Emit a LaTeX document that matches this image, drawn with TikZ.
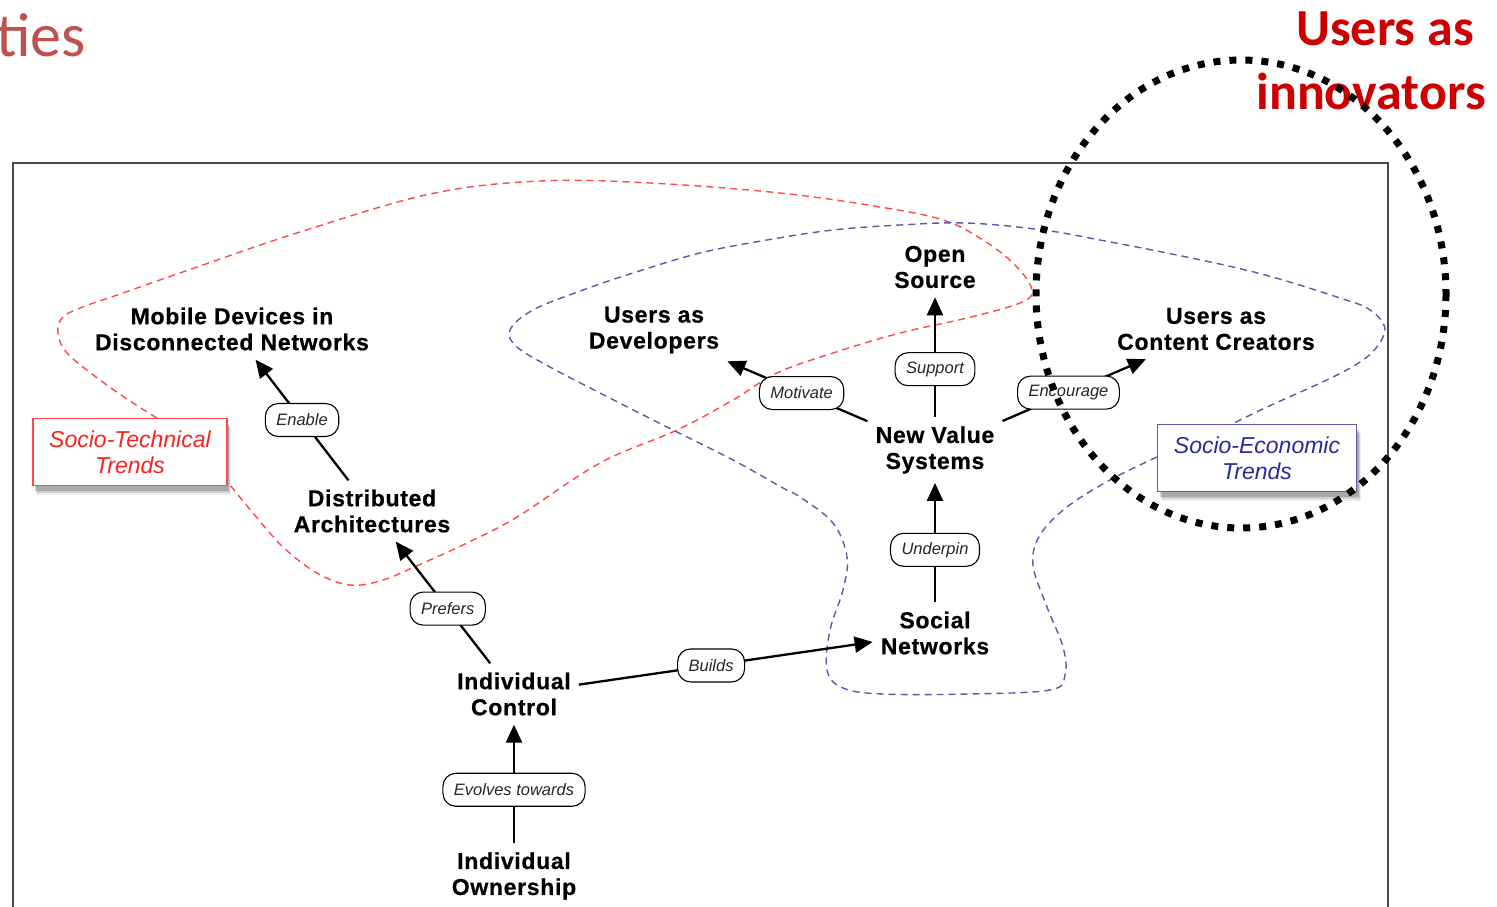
\documentclass[tikz,border=0pt]{standalone}
\usepackage{fontspec}
\setmainfont{Liberation Sans}
\newfontfamily\carlito{Carlito}
\newfontfamily\conceptfont[LetterSpace=3,BoldFeatures={FakeBold=0.6}]{Liberation Sans}
\usetikzlibrary{arrows.meta,shadows}
\definecolor{titlered}{HTML}{C0504D}
\definecolor{innored}{HTML}{CC0000}
\definecolor{loopred}{HTML}{FF4A4A}
\definecolor{loopblue}{HTML}{5858B0}
\definecolor{framec}{HTML}{4A4A4A}
\definecolor{stborder}{HTML}{FF4848}
\definecolor{sttext}{HTML}{FF2020}
\definecolor{seborder}{HTML}{5A5AAA}
\definecolor{setext}{HTML}{2A2A9A}
\begin{document}
\begin{tikzpicture}[x=1pt,y=-1pt,
  concept/.style={font=\conceptfont\bfseries\fontsize{23}{26}\selectfont, align=center, inner xsep=8pt, inner ysep=9pt},
  rel/.style={draw, fill=white, rounded corners=13pt, line width=1.1pt, minimum height=33pt, inner xsep=11pt, inner ysep=2pt, font=\fontsize{16.5}{18}\selectfont\itshape, text=black!85},
  arr/.style={line width=2.3pt, -{Triangle[length=18pt,width=16pt]}},
  trend/.style={draw, fill=white, line width=1.5pt, minimum height=67pt, align=center, font=\fontsize{23}{26}\selectfont\itshape,
    drop shadow={shadow xshift=4pt, shadow yshift=-9pt, fill=black, opacity=0.08},
    drop shadow={shadow xshift=3pt, shadow yshift=-7pt, fill=black, opacity=0.12},
    drop shadow={shadow xshift=2pt, shadow yshift=-5pt, fill=black, opacity=0.18}},
  loop/.style={line width=1.4pt, dash pattern=on 7pt off 5pt},
  dotring/.style={line width=7pt, dash pattern=on 7pt off 9pt}
]
\useasboundingbox (0,0) rectangle (1497,906);

% frame
\draw[framec, line width=2pt] (13,930) -- (13,163) -- (1388,163) -- (1388,930);

% red group loop
\draw[loopred, loop] plot[smooth, tension=0.6] coordinates {
 (157,418) (133,403) (100,380) (67,353) (58,333) (62,318) (80,308) (120,294) (200,266)
 (300,232) (430,194) (540,181) (650,183) (780,193) (880,207) (943,220) (983,240)
 (1015,265) (1032,290) (1020,303) (967,318) (900,333) (833,353) (777,373) (733,400)
 (677,430) (600,463) (517,517) (467,543) (423,563) (383,580) (350,585) (317,573)
 (283,547) (253,513) (230,485)};

% blue group loop
\draw[loopblue, loop] plot[smooth, tension=0.6] coordinates {
 (1157,457) (1110,480) (1067,507) (1040,535) (1033,565) (1047,607) (1063,647) (1065,675)
 (1050,690) (967,694) (883,694) (843,688) (827,670) (830,630) (843,590) (847,557)
 (833,523) (800,497) (783,488) (733,460) (667,427) (600,393) (550,367) (517,347)
 (510,330) (533,310) (583,290) (633,273) (700,253) (767,240) (833,230) (900,225)
 (967,223) (1043,230) (1100,240) (1167,253) (1233,267) (1283,280) (1340,298)
 (1367,308) (1383,323) (1383,337) (1367,357) (1333,377) (1267,407) (1230,425)};

% trend boxes
\node[trend, draw=stborder, text=sttext, minimum width=194pt] (stt) at (130,452) {Socio-Technical\\Trends};
\node[trend, draw=seborder, text=setext, minimum width=199pt] (set) at (1257,458) {Socio-Economic\\Trends};

% concepts
\node[concept] (mobile) at (232,329) {Mobile Devices in\\Disconnected Networks};
\node[concept] (dist) at (372,511) {Distributed\\Architectures};
\node[concept] (ictl) at (514,694) {Individual\\Control};
\node[concept] (iown) at (514,876) {Individual\\Ownership};
\node[concept] (soc) at (935,633) {Social\\Networks};
\node[concept] (nvs) at (935,450) {New Value\\Systems};
\node[concept] (oss) at (935,267) {Open\\Source};
\node[concept] (udev) at (654,330) {Users as\\Developers};
\node[concept] (ucc) at (1216,329) {Users as\\Content Creators};

% relations
\draw[arr] (dist) -- node[rel]{Enable} (mobile);
\draw[arr] (ictl) -- node[rel, pos=0.45]{Prefers} (dist);
\draw[arr] (ictl) -- node[rel, pos=0.45]{Builds} (soc);
\draw[arr] (iown) -- node[rel, pos=0.45]{Evolves towards} (ictl);
\draw[arr] (soc) -- node[rel, pos=0.44]{Underpin} (nvs);
\draw[arr] (nvs) -- node[rel, pos=0.4]{Support} (oss);
\draw[arr] (nvs) -- node[rel, pos=0.47]{Motivate} (udev);
\draw[arr] (nvs) -- node[rel, pos=0.46]{Encourage} (ucc);

% slide texts
\node[anchor=base east, inner sep=0pt, text=titlered, font=\carlito\fontsize{62}{66}\selectfont] (ties) at (86,56) {ties};
\node[anchor=east, inner sep=0pt, align=right, text=innored, font=\carlito\bfseries\fontsize{52}{64}\selectfont] (innov) at (1486,61) {Users as\rule{0.23em}{0pt}\\innovators};

% dotted ring
\draw[dotring] (1241,294) ellipse [x radius=205, y radius=234];
\end{tikzpicture}
\end{document}
